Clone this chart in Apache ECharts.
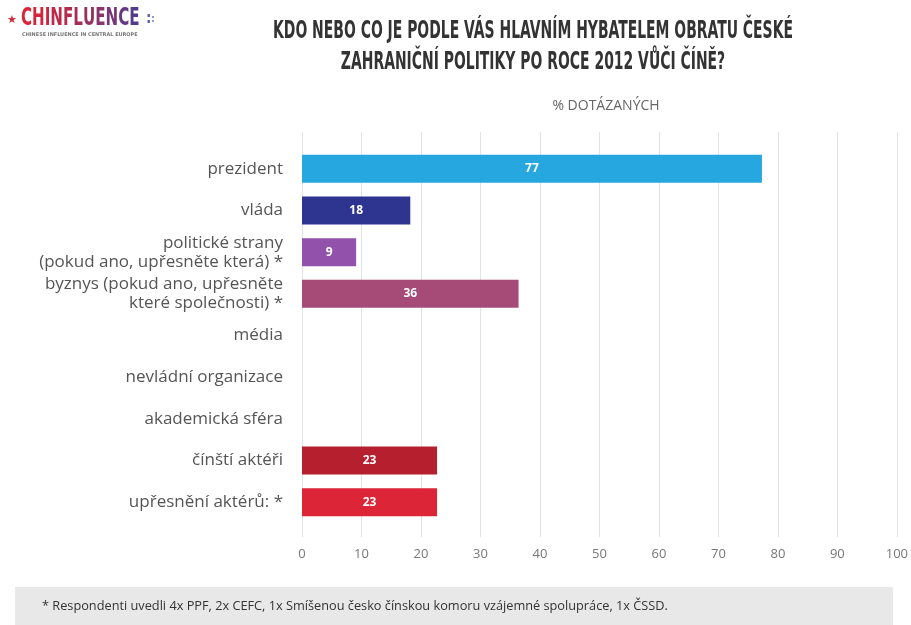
<!DOCTYPE html>
<html><head><meta charset="utf-8">
<script src="https://cdn.jsdelivr.net/npm/echarts@6/dist/echarts.min.js"></script>
<style>html,body{margin:0;padding:0;background:#fff}#c{width:911px;height:625px}</style>
</head><body><div id="c"></div>
<script>
var categories = ['prezident','vláda','politické strany\n(pokud ano, upřesněte která) *','byznys (pokud ano, upřesněte\nkteré společnosti) *','média','nevládní organizace','akademická sféra','čínští aktéři','upřesnění aktérů: *'];
var values = [77.3, 18.2, 9.1, 36.4, null, null, null, 22.7, 22.7];
var barColors = ['#27a7df','#2d3590','#9252ab','#a64b78','#999','#999','#999','#b61f2e','#dc2537'];
var xTicks = [0,10,20,30,40,50,60,70,80,90,100];
var titleLines = ['KDO NEBO CO JE PODLE VÁS HLAVNÍM HYBATELEM OBRATU ČESKÉ','ZAHRANIČNÍ POLITIKY PO ROCE 2012 VŮČI ČÍNĚ?'];
var axisName = '% DOTÁZANÝCH';
var footnote = '* Respondenti uvedli 4x PPF, 2x CEFC, 1x Smíšenou česko čínskou komoru vzájemné spolupráce, 1x ČSSD.';
var logoText = 'CHINFLUENCE';
var logoSub = 'CHINESE INFLUENCE IN CENTRAL EUROPE';
var logoColors = ['#d8263a','#d2263d','#c92842','#bf2a48','#b32c50','#a42e59','#963163','#88346d','#773677','#663882','#523a8e'];

var chart = echarts.init(document.getElementById('c'), null, {renderer:'canvas'});
var condFont = '"DejaVu Sans Condensed","Liberation Sans Narrow","DejaVu Sans",sans-serif';
var rich = {};
var logoStr = '';
logoText.split('').forEach(function(ch,i){
  rich['l'+i] = {fill:logoColors[i], font:'bold 24px '+condFont};
  logoStr += '{l'+i+'|'+ch+'}';
});
var option = {
  animation:false,
  backgroundColor:'#fff',
  grid:[
    {left:302, right:14, top:148, bottom:102},
    {left:302, right:14, top:132, bottom:88}
  ],
  xAxis:[
    {gridIndex:0, type:'value', min:0, max:100, interval:10, show:false},
    {gridIndex:1, type:'value', min:0, max:100, interval:10,
     axisLine:{show:false}, axisTick:{show:false},
     splitLine:{show:true, lineStyle:{color:'#e3e3e3', width:1}},
     axisLabel:{color:'#777', fontFamily:'Open Sans', fontSize:13, margin:11,
       formatter:function(v){return xTicks.indexOf(v)>=0? String(v):'';}}}
  ],
  yAxis:[
    {gridIndex:0, type:'category', inverse:true, data:categories,
     axisLine:{show:false}, axisTick:{show:false},
     axisLabel:{color:'#555', fontFamily:'Open Sans', fontSize:17, margin:19, lineHeight:19, align:'right'}},
    {gridIndex:1, type:'category', data:['x'], show:false}
  ],
  series:[{
    type:'bar', xAxisIndex:0, yAxisIndex:0, barWidth:28,
    data: values.map(function(v,i){return {value:v, itemStyle:{color:barColors[i]}};}),
    label:{show:true, position:'inside', color:'#fff', fontFamily:'Open Sans', fontWeight:'bold', fontSize:12,
      formatter:function(p){return p.value==null?'':String(Math.round(p.value));}}
  }],
  graphic:[
    {type:'text', x:533, y:31, scaleX:0.62, style:{text:titleLines[0], font:'bold 25px '+condFont, fill:'#333', textAlign:'center', textVerticalAlign:'middle'}},
    {type:'text', x:533, y:62, scaleX:0.62, style:{text:titleLines[1], font:'bold 25px '+condFont, fill:'#333', textAlign:'center', textVerticalAlign:'middle'}},
    {type:'text', x:606, y:106, style:{text:axisName, font:'14px "Open Sans"', fill:'#666', textAlign:'center', textVerticalAlign:'middle'}},
    {type:'text', x:7, y:20, style:{text:'★', font:'11px "DejaVu Sans"', fill:'#d42a3a', textVerticalAlign:'middle'}},
    {type:'text', x:21, y:19, scaleX:0.7, style:{text:logoStr, rich:rich, textVerticalAlign:'middle'}},
    {type:'text', x:146, y:19, style:{text:':', font:'bold 15px '+condFont, fill:'#5a5fa8', textVerticalAlign:'middle'}},
    {type:'text', x:151, y:19, style:{text:':', font:'bold 11px '+condFont, fill:'#8a8fc8', textVerticalAlign:'middle'}},
    {type:'text', x:22, y:35, scaleX:1.1, style:{text:logoSub, font:'bold 5px '+condFont, fill:'#777', textVerticalAlign:'middle'}},
    {type:'rect', shape:{x:15, y:587, width:878, height:38}, style:{fill:'#e8e8e8'}},
    {type:'text', x:42, y:606, scaleX:0.98, style:{text:footnote, font:'13px "Open Sans"', fill:'#333', textVerticalAlign:'middle'}}
  ]
};
chart.setOption(option);
</script></body></html>
